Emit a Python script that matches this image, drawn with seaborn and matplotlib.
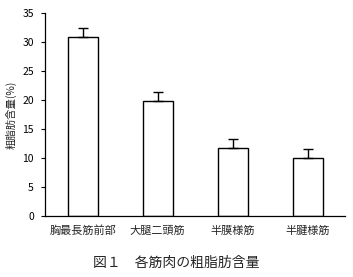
import matplotlib
matplotlib.use("Agg")
import matplotlib.pyplot as plt
import seaborn as sns
import pandas as pd
import numpy as np

categories = ["胸最長筋前部", "大腿二頭筋", "半膜様筋", "半腱様筋"]
values = [30.8, 19.9, 11.8, 10.0]
errors = [1.6, 1.5, 1.5, 1.5]
y_ticks = [0, 5, 10, 15, 20, 25, 30, 35]

sns.set_theme(style="white")
plt.rcParams['font.family'] = ['Noto Sans CJK JP', 'DejaVu Sans']

df = pd.DataFrame({"cat": categories, "val": values})

fig = plt.figure(figsize=(3.53, 2.77), dpi=100)
ax = fig.add_axes([45/353, 61/277, 300/353, 203/277])

sns.barplot(data=df, x="cat", y="val", ax=ax, color="white", edgecolor="black",
            linewidth=1.0, width=0.4, errorbar=None)
ax.errorbar(np.arange(len(categories)), values, yerr=[[0]*len(errors), errors],
            fmt="none", ecolor="black", elinewidth=1.0, capsize=3.5, capthick=1.0)

ax.set_xlim(-0.5, len(categories) - 0.5)
ax.set_ylim(0, 35)
ax.set_yticks(y_ticks)
ax.set_yticklabels([str(t) for t in y_ticks], fontsize=7.5)
ax.set_xticks(np.arange(len(categories)) + 0.5)
ax.set_xticklabels([])
ax.set_xticks(np.arange(len(categories)), minor=True)
ax.set_xticklabels(categories, minor=True, fontsize=8)
ax.tick_params(axis="x", which="major", direction="in", length=2.5, width=0.8, colors="black")
ax.tick_params(axis="x", which="minor", length=0, pad=7)
ax.tick_params(axis="y", direction="out", length=3, width=0.8, pad=5, left=True, colors="black")
ax.set_xlabel("")
ax.set_ylabel("粗脂肪含量(%)", fontsize=7.5)
ax.yaxis.set_label_coords(-0.095, 0.5)

for s in ["top", "right"]:
    ax.spines[s].set_visible(False)
for s in ["left", "bottom"]:
    ax.spines[s].set_color("black")
    ax.spines[s].set_linewidth(0.9)

fig.text(0.5, 14/277, "図１　各筋肉の粗脂肪含量", ha="center", va="center", fontsize=10)

fig.savefig("out.png", dpi=100, facecolor="white")
